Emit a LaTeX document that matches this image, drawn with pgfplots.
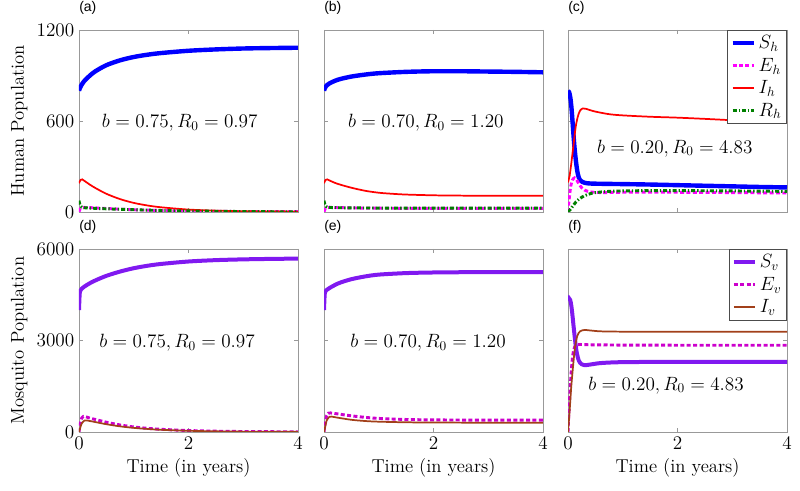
\documentclass[border=0pt]{standalone}
\usepackage{fontspec}
\usepackage{pgfplots}
\pgfplotsset{compat=1.18}
\newfontfamily\panelfont{Liberation Sans}

\definecolor{shc}{RGB}{0,0,255}
\definecolor{ehc}{RGB}{255,0,255}
\definecolor{ihc}{RGB}{255,0,0}
\definecolor{rhc}{RGB}{0,128,0}
\definecolor{svc}{RGB}{128,25,240}
\definecolor{evc}{RGB}{204,0,204}
\definecolor{ivc}{RGB}{162,64,26}

\newcommand\bigfont{\fontsize{14}{16}\selectfont}

\pgfplotsset{
  panel/.style={
    scale only axis, width=164.25pt, xmin=0, xmax=4, xtick={0,2,4},
    axis line style={gray!80}, major tick style={gray!80},
    major tick length=3pt, tick label style={font=\bigfont},
    /pgf/number format/set thousands separator={},
    label style={font=\bigfont}, clip mode=individual,
    title style={at={(rel axis cs:0,1)}, anchor=base west, inner sep=0pt, yshift=8pt,
      font=\panelfont\fontsize{10.5}{12}\selectfont},
    legend style={at={(1,1)}, anchor=north east, draw=black!70,
      font=\bigfont, inner sep=2pt, row sep=1.5pt, legend cell align=left},
    legend image code/.code={\draw[##1] (0pt,0pt) -- (16pt,0pt);},
  },
  toprow/.style={panel, height=136.5pt, ymin=0, ymax=1200, ytick={0,600,1200}, xticklabels={}},
  botrow/.style={panel, height=137.25pt, ymin=0, ymax=6000, ytick={0,3000,6000}, xlabel={Time (in years)}},
  Sh/.style={color=shc, line width=3.3pt, smooth},
  Eh/.style={color=ehc, line width=2.2pt, dash pattern=on 3pt off 1.8pt, smooth},
  Ih/.style={color=ihc, line width=1.3pt, smooth},
  Rh/.style={color=rhc, line width=2.2pt, dash pattern=on 3pt off 1.5pt on 1pt off 1.5pt, smooth},
  Sv/.style={color=svc, line width=3pt, smooth},
  Ev/.style={color=evc, line width=2.2pt, dash pattern=on 3pt off 1.8pt, smooth},
  Iv/.style={color=ivc, line width=1.3pt, smooth},
}

\begin{document}
\begin{tikzpicture}
\path[use as bounding box] (0,0) rectangle (600pt,-368.25pt);

% (a)
\begin{axis}[toprow, at={(59.25pt,-22.5pt)}, anchor=north west, ylabel={Human Population}, title={(a)}]
\addplot[Sh] coordinates {(0,800)(0.02,820)(0.05,840)(0.1,865)(0.2,900)(0.3,928)(0.5,968)(0.75,1000)(1,1022)(1.25,1037)(1.5,1048)(2,1063)(2.5,1072)(3,1078)(3.5,1081)(4,1083)};
\addplot[Eh] coordinates {(0,0)(0.02,20)(0.05,28)(0.1,30)(0.3,27)(0.5,23)(1,15)(1.5,10)(2,6)(3,3)(4,2)};
\addplot[Ih] coordinates {(0,190)(0.03,212)(0.06,215)(0.1,205)(0.2,180)(0.3,158)(0.5,120)(0.75,85)(1,60)(1.25,43)(1.5,31)(2,16)(2.5,9)(3,5)(4,2)};
\addplot[Rh] coordinates {(0,75)(0.02,45)(0.05,32)(0.1,28)(0.3,24)(0.5,21)(1,15)(1.5,10)(2,7)(3,3)(4,1)};
\node[font=\bigfont] at (axis cs:1.84,586) {$b=0.75, R_0=0.97$};
\end{axis}

% (b)
\begin{axis}[toprow, at={(243pt,-22.5pt)}, anchor=north west, yticklabels={}, title={(b)}]
\addplot[Sh] coordinates {(0,800)(0.02,820)(0.05,835)(0.1,848)(0.2,865)(0.3,877)(0.5,893)(0.75,906)(1,915)(1.5,924)(2,928)(2.5,928)(3,926)(3.5,924)(4,921)};
\addplot[Eh] coordinates {(0,0)(0.02,20)(0.05,28)(0.1,30)(0.3,29)(0.5,27)(1,25)(2,24)(4,24)};
\addplot[Ih] coordinates {(0,190)(0.03,212)(0.06,215)(0.1,208)(0.2,192)(0.3,180)(0.5,160)(0.75,140)(1,127)(1.25,120)(1.5,115)(2,110)(2.5,108)(3,107)(4,107)};
\addplot[Rh] coordinates {(0,75)(0.02,45)(0.05,33)(0.1,30)(0.3,28)(0.5,27)(1,26)(2,25)(4,25)};
\node[font=\bigfont] at (axis cs:1.86,586) {$b=0.70, R_0=1.20$};
\end{axis}

% (c)
\begin{axis}[toprow, at={(426pt,-22.5pt)}, anchor=north west, yticklabels={}, title={(c)}]
\addplot[Sh] coordinates {(0,800)(0.02,790)(0.04,760)(0.06,700)(0.08,610)(0.1,510)(0.12,420)(0.15,320)(0.18,250)(0.22,210)(0.3,193)(0.4,188)(0.6,186)(1,184)(1.5,181)(2,177)(2.5,173)(3,169)(3.5,165)(4,162)};
\addplot[Eh] coordinates {(0,0)(0.02,80)(0.05,170)(0.08,210)(0.12,225)(0.16,210)(0.2,185)(0.25,160)(0.3,145)(0.4,133)(0.6,128)(1,130)(1.5,131)(2,130)(3,128)(4,125)};
\addplot[Ih] coordinates {(0,195)(0.03,240)(0.06,320)(0.1,440)(0.14,560)(0.18,630)(0.22,668)(0.27,683)(0.33,680)(0.4,672)(0.5,662)(0.75,645)(1,637)(1.5,628)(2,622)(2.5,614)(3,605)(3.5,597)(4,590)};
\addplot[Rh] coordinates {(0,0)(0.05,20)(0.1,45)(0.15,68)(0.2,85)(0.3,107)(0.4,120)(0.5,128)(0.75,136)(1,139)(1.5,141)(2,141)(3,139)(4,136)};
\legend{$S_h$,$E_h$,$I_h$,$R_h$}
\node[font=\bigfont] at (axis cs:1.95,420) {$b=0.20, R_0=4.83$};
\end{axis}

% (d)
\begin{axis}[botrow, at={(59.25pt,-186.75pt)}, anchor=north west, ylabel={Mosquito Population}, title={(d)}]
\addplot[Sv] coordinates {(0,4000)(0.01,4450)(0.02,4620)(0.05,4700)(0.1,4770)(0.2,4880)(0.3,4970)(0.5,5120)(0.75,5260)(1,5370)(1.25,5450)(1.5,5510)(2,5590)(2.5,5635)(3,5660)(3.5,5675)(4,5685)};
\addplot[Ev] coordinates {(0,0)(0.02,250)(0.05,460)(0.08,510)(0.12,500)(0.2,455)(0.3,410)(0.5,320)(0.75,230)(1,165)(1.25,120)(1.5,88)(2,48)(2.5,27)(3,15)(4,5)};
\addplot[Iv] coordinates {(0,0)(0.02,120)(0.05,280)(0.1,375)(0.14,380)(0.2,360)(0.3,325)(0.5,255)(0.75,185)(1,135)(1.25,100)(1.5,72)(2,40)(2.5,22)(3,12)(4,4)};
\node[font=\bigfont] at (axis cs:1.79,2913) {$b=0.75, R_0=0.97$};
\end{axis}

% (e)
\begin{axis}[botrow, at={(243pt,-186.75pt)}, anchor=north west, yticklabels={}, title={(e)}]
\addplot[Sv] coordinates {(0,4000)(0.01,4430)(0.02,4600)(0.05,4660)(0.1,4720)(0.2,4820)(0.3,4900)(0.5,5010)(0.75,5100)(1,5160)(1.5,5210)(2,5230)(2.5,5238)(3,5240)(4,5240)};
\addplot[Ev] coordinates {(0,0)(0.02,280)(0.05,540)(0.08,615)(0.12,625)(0.2,605)(0.3,580)(0.5,530)(0.75,480)(1,445)(1.5,410)(2,397)(2.5,392)(3,390)(4,388)};
\addplot[Iv] coordinates {(0,0)(0.02,150)(0.05,380)(0.1,500)(0.14,505)(0.2,485)(0.3,455)(0.5,400)(0.75,360)(1,338)(1.5,318)(2,310)(3,305)(4,305)};
\node[font=\bigfont] at (axis cs:1.90,2913) {$b=0.70, R_0=1.20$};
\end{axis}

% (f)
\begin{axis}[botrow, at={(426pt,-186.75pt)}, anchor=north west, yticklabels={}, title={(f)}]
\addplot[Sv] coordinates {(0,4300)(0.02,4380)(0.04,4330)(0.06,4150)(0.08,3850)(0.1,3500)(0.13,3000)(0.16,2600)(0.2,2330)(0.25,2220)(0.3,2190)(0.4,2210)(0.6,2260)(1,2290)(2,2300)(3,2300)(4,2300)};
\addplot[Ev] coordinates {(0,0)(0.03,1100)(0.06,2000)(0.09,2550)(0.12,2780)(0.16,2860)(0.22,2870)(0.4,2860)(1,2850)(2,2845)(4,2845)};
\addplot[Iv] coordinates {(0,0)(0.03,700)(0.06,1500)(0.1,2300)(0.13,2800)(0.17,3150)(0.22,3300)(0.3,3345)(0.4,3330)(0.6,3300)(1,3290)(2,3290)(4,3290)};
\legend{$S_v$,$E_v$,$I_v$}
\node[font=\bigfont] at (axis cs:1.79,1534) {$b=0.20, R_0=4.83$};
\end{axis}
\end{tikzpicture}
\end{document}
